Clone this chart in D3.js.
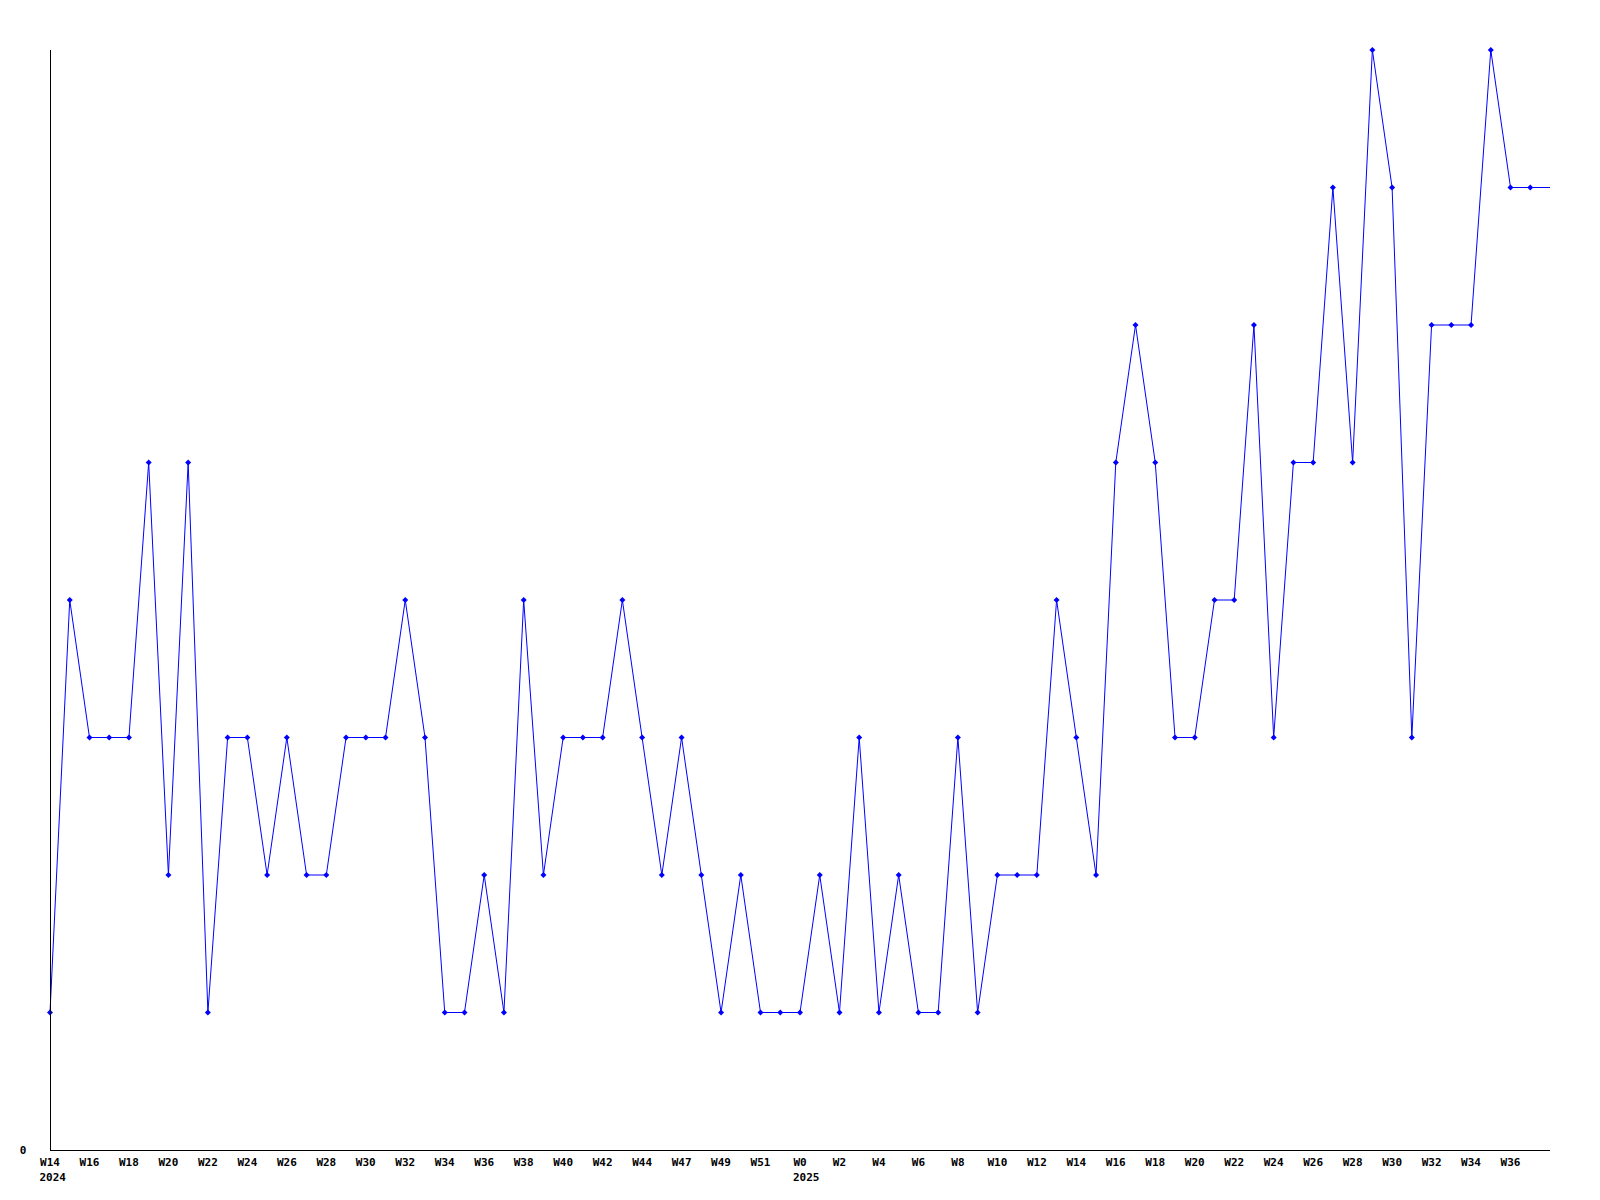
<!DOCTYPE html>
<html><head><meta charset="utf-8">
<script src="https://cdn.jsdelivr.net/npm/d3@7"></script>
<style>
html,body{margin:0;padding:0;background:#fff;}
text{font-family:"DejaVu Sans Mono",monospace;font-weight:bold;font-size:11px;fill:#000;}
</style></head><body>
<svg id="chart" width="1600" height="1200"></svg>
<script>
// Weekly values, index 0 = 2024 W14
const values = [1,4,3,3,3,5,2,5,1,3,3,2,3,2,2,3,3,3,4,3,1,1,2,1,4,2,3,3,3,4,3,2,3,2,1,2,1,1,1,2,1,3,1,2,1,1,3,1,2,2,2,4,3,2,5,6,5,3,3,4,4,6,3,5,5,7,5,8,7,3,6,6,6,8,7,7];
// Tick labels, one every 2 points
const tickLabels = ["W14","W16","W18","W20","W22","W24","W26","W28","W30","W32","W34","W36","W38","W40","W42","W44","W47","W49","W51",
  "W0","W2","W4","W6","W8","W10","W12","W14","W16","W18","W20","W22","W24","W26","W28","W30","W32","W34","W36"];
const yearLabels = [{label:"2024", tick:0},{label:"2025", tick:19}];
const yTickValues = [0];

(function(){
const svg = d3.select("#chart");
const mLeft = 50, mRight = 1550, mTop = 50, mBottom = 1150;
const x = d3.scaleLinear().domain([0, values.length]).range([mLeft, mRight]);
const y = d3.scaleLinear().domain([0, d3.max(values)]).range([mBottom, mTop]);

// line extends to axis end holding last value
const linePts = values.map((v,i)=>[i,v]).concat([[values.length, values[values.length-1]]]);
const line = d3.line().x(d=>x(d[0])).y(d=>y(d[1]));
svg.append("path").attr("d", line(linePts)).attr("fill","none").attr("stroke","#0000ff").attr("stroke-width",1);

// markers
svg.append("g").selectAll("path").data(values).join("path")
  .attr("transform",(d,i)=>`translate(${x(i)},${y(d)})`)
  .attr("d","M0,-3L3,0L0,3L-3,0Z").attr("fill","#0000ff");

// axes lines
svg.append("line").attr("x1",mLeft+0.5).attr("x2",mLeft+0.5).attr("y1",mTop).attr("y2",mBottom+0.5).attr("stroke","#000");
svg.append("line").attr("x1",mLeft).attr("x2",mRight).attr("y1",mBottom+0.5).attr("y2",mBottom+0.5).attr("stroke","#000");

// y tick label
svg.append("g").selectAll("text").data(yTickValues).join("text")
  .attr("x",23).attr("y",d=>y(d)).attr("dy","0.35em").attr("text-anchor","middle").text(d=>d);

// x tick labels
svg.append("g").selectAll("text").data(tickLabels).join("text")
  .attr("x",(d,i)=>x(i*2)).attr("y",1162).attr("dy","0.35em").attr("text-anchor","middle").text(d=>d);

// year labels, left-aligned with week label start
svg.append("g").selectAll("text").data(yearLabels).join("text")
  .attr("x",d=>x(d.tick*2) - tickLabels[d.tick].length*3.5).attr("y",1177).attr("dy","0.35em").text(d=>d.label);
})();
</script>
</body></html>
